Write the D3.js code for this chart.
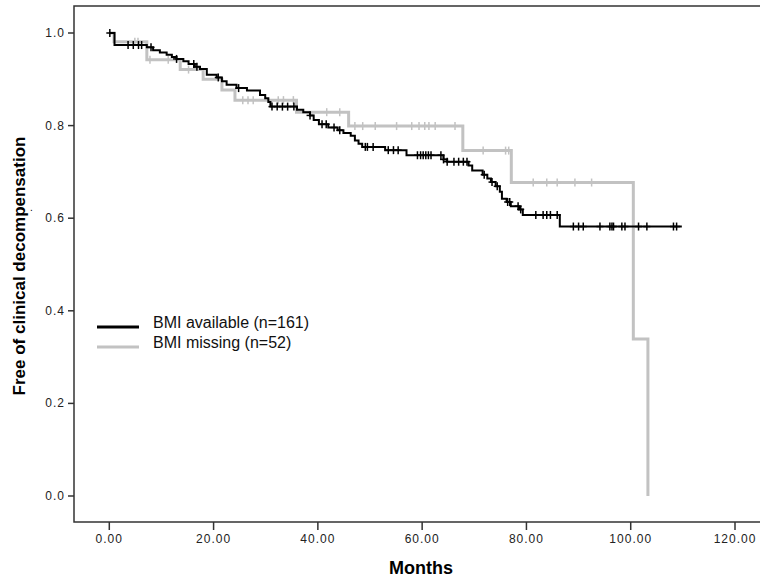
<!DOCTYPE html>
<html>
<head>
<meta charset="utf-8">
<script src="https://cdn.jsdelivr.net/npm/d3@7"></script>
<style>
  body { margin: 0; background: #fff; }
  svg text { font-family: Arial, "Liberation Sans", sans-serif; }
  .tick-label { font-size: 12px; letter-spacing: 1px; fill: #222; }
</style>
</head>
<body>
<div id="chart"></div>
<script>

// BMI available (n=161): event times (months) and survival after each event
var availTimes = [1.0, 7.2, 8.4, 9.7, 11.0, 12.0, 12.9, 14.2, 15.2, 16.4, 17.4, 18.7, 20.6, 21.6, 22.5,
  24.4, 26.4, 28.9, 29.9, 30.5, 30.9, 36.0, 37.2, 38.5, 39.2, 40.2, 42.0, 43.8, 44.9, 46.3, 47.1,
  47.8, 48.5, 52.9, 57.0, 64.1, 64.8, 68.9, 69.6, 71.6, 72.5, 73.2, 74.1, 74.9, 75.3, 76.2, 77.0,
  78.6, 79.3, 86.4];
var availSurv = [0.974, 0.969, 0.963, 0.958, 0.953, 0.948, 0.944, 0.939, 0.933, 0.927, 0.922, 0.910,
  0.904, 0.896, 0.888, 0.881, 0.876, 0.866, 0.859, 0.851, 0.841, 0.834, 0.829, 0.822, 0.812, 0.803,
  0.796, 0.790, 0.784, 0.778, 0.768, 0.761, 0.754, 0.747, 0.736, 0.727, 0.722, 0.714, 0.703, 0.694,
  0.686, 0.678, 0.669, 0.657, 0.642, 0.635, 0.626, 0.619, 0.607, 0.582];
var availCensor = [0.1, 3.6, 4.6, 5.6, 6.2, 8.0, 12.9, 16.2, 16.8, 20.9, 24.8, 31.2, 32.2, 33.2, 34.2,
  35.4, 38.5, 40.8, 41.6, 43.1, 44.2, 49.1, 49.5, 50.6, 53.5, 54.5, 55.4, 59.1, 59.7, 60.2, 60.7,
  61.2, 61.7, 63.6, 64.1, 64.8, 66.1, 67.0, 67.9, 68.6, 71.9, 73.4, 74.4, 76.4, 76.8, 78.4, 78.9,
  81.8, 83.2, 83.9, 84.6, 85.9, 89.0, 90.0, 90.9, 94.1, 96.0, 96.4, 96.7, 98.3, 98.9, 101.5, 103.1,
  108.2, 108.8];
var availEnd = 109.8;

// BMI missing (n=52)
var missTimes = [0.9, 7.2, 13.6, 18.0, 21.6, 24.1, 35.9, 45.9, 67.8, 77.1, 100.5, 103.3];
var missSurv = [0.981, 0.942, 0.921, 0.900, 0.877, 0.855, 0.829, 0.799, 0.746, 0.677, 0.339, 0.0];
var missCensor = [4.9, 5.5, 7.8, 11.3, 15.2, 25.6, 26.6, 27.6, 32.4, 33.4, 35.3, 41.7, 44.2, 47.1,
  48.6, 51.0, 55.1, 58.0, 59.4, 60.5, 61.3, 62.5, 66.3, 71.7, 76.0, 76.6, 81.3, 83.9, 85.9, 89.3, 92.5];
var missEnd = 103.3;

var xTicks = [0, 20, 40, 60, 80, 100, 120];
var yTicks = [0.0, 0.2, 0.4, 0.6, 0.8, 1.0];
var legendLabels = ["BMI available (n=161)", "BMI missing (n=52)"];

var width = 760, height = 581;

var svg = d3.select("#chart").append("svg")
  .attr("width", width)
  .attr("height", height);

var x = d3.scaleLinear().domain([0, 120]).range([109.3, 735]);
var y = d3.scaleLinear().domain([0, 1]).range([496, 33]);

var frameLeft = 74, frameTop = 6, frameBottom = 522;

// frame: left axis, top and bottom lines
svg.append("path")
  .attr("d", "M" + width + "," + frameTop + "H" + frameLeft + "V" + frameBottom + "H" + width)
  .attr("fill", "none")
  .attr("stroke", "#333")
  .attr("stroke-width", 1.5);

// x axis ticks
var xAxis = svg.append("g");
xAxis.selectAll("line").data(xTicks).enter().append("line")
  .attr("x1", function(d) { return x(d); })
  .attr("x2", function(d) { return x(d); })
  .attr("y1", frameBottom)
  .attr("y2", frameBottom + 8)
  .attr("stroke", "#333")
  .attr("stroke-width", 1.5);
xAxis.selectAll("text").data(xTicks).enter().append("text")
  .attr("class", "tick-label")
  .attr("x", function(d) { return x(d); })
  .attr("y", 543)
  .attr("text-anchor", "middle")
  .text(function(d) { return d3.format(".2f")(d); });

// y axis ticks
var yAxis = svg.append("g");
yAxis.selectAll("line").data(yTicks).enter().append("line")
  .attr("x1", frameLeft - 6)
  .attr("x2", frameLeft)
  .attr("y1", function(d) { return y(d); })
  .attr("y2", function(d) { return y(d); })
  .attr("stroke", "#333")
  .attr("stroke-width", 1.5);
yAxis.selectAll("text").data(yTicks).enter().append("text")
  .attr("class", "tick-label")
  .attr("x", 65)
  .attr("y", function(d) { return y(d) + 4; })
  .attr("text-anchor", "end")
  .text(function(d) { return d3.format(".1f")(d); });

// axis titles
svg.append("text")
  .attr("x", 421)
  .attr("y", 574)
  .attr("text-anchor", "middle")
  .style("font-size", "18px")
  .style("font-weight", "bold")
  .text("Months");

svg.append("text")
  .attr("transform", "translate(25,266)rotate(-90)")
  .attr("text-anchor", "middle")
  .style("font-size", "17px")
  .style("font-weight", "bold")
  .text("Free of clinical decompensation");

svg.append("text")
  .attr("x", 30)
  .attr("y", 211)
  .style("font-size", "10px")
  .text(".");

// KM step curves
function stepPoints(times, surv, end) {
  var pts = [[0, 1]];
  for (var i = 0; i < times.length; i++) pts.push([times[i], surv[i]]);
  if (end > times[times.length - 1]) pts.push([end, surv[surv.length - 1]]);
  return pts;
}

function survAt(times, surv, t) {
  var i = d3.bisectRight(times, t);
  return i == 0 ? 1 : surv[i - 1];
}

var line = d3.line()
  .x(function(d) { return x(d[0]); })
  .y(function(d) { return y(d[1]); })
  .curve(d3.curveStepAfter);

var series = [
  {times: missTimes, surv: missSurv, censor: missCensor, end: missEnd, color: "#c2c2c2", w: 3},
  {times: availTimes, surv: availSurv, censor: availCensor, end: availEnd, color: "#000", w: 2}
];

series.forEach(function(s) {
  var g = svg.append("g");
  g.append("path")
    .attr("d", line(stepPoints(s.times, s.surv, s.end)))
    .attr("fill", "none")
    .attr("stroke", s.color)
    .attr("stroke-width", s.w);

  var marks = g.selectAll(".censor").data(s.censor).enter().append("g")
    .attr("class", "censor")
    .attr("transform", function(t) {
      return "translate(" + x(t) + "," + y(survAt(s.times, s.surv, t)) + ")";
    });
  marks.append("line")
    .attr("x1", 0).attr("x2", 0).attr("y1", -4).attr("y2", 4)
    .attr("stroke", s.color).attr("stroke-width", 1.5);
  marks.append("line")
    .attr("x1", -3.5).attr("x2", 3.5).attr("y1", 0).attr("y2", 0)
    .attr("stroke", s.color).attr("stroke-width", 1.5);
});

// legend
var legend = svg.append("g");
var legendColors = ["#000", "#c2c2c2"];
legend.selectAll("line").data(legendLabels).enter().append("line")
  .attr("x1", 97)
  .attr("x2", 139)
  .attr("y1", function(d, i) { return 327 + i * 20; })
  .attr("y2", function(d, i) { return 327 + i * 20; })
  .attr("stroke", function(d, i) { return legendColors[i]; })
  .attr("stroke-width", 3);
legend.selectAll("text").data(legendLabels).enter().append("text")
  .attr("x", 153)
  .attr("y", function(d, i) { return 328 + i * 20; })
  .style("font-size", "16px")
  .style("fill", "#111")
  .text(function(d) { return d; });

</script>
</body>
</html>
